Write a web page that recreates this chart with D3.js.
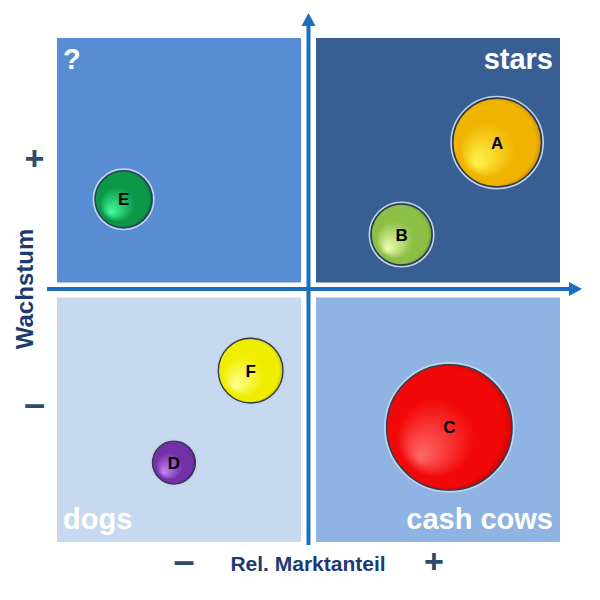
<!DOCTYPE html>
<html>
<head>
<meta charset="utf-8">
<script src="https://cdn.jsdelivr.net/npm/d3@7/dist/d3.min.js"></script>
<style>
  html, body { margin: 0; padding: 0; background: #ffffff; }
  svg { display: block; }
  text { font-family: "Liberation Sans", Arial, sans-serif; font-weight: bold; }
</style>
</head>
<body>
<svg id="chart" width="600" height="600"></svg>
<script>
// ---- data ----
const products = ["A", "B", "C", "D", "E", "F"];
const marketShare = [0.75, 0.37, 0.56, -0.535, -0.735, -0.23];   // relative market share (−1 … +1)
const growth = [0.585, 0.22, -0.545, -0.685, 0.36, -0.32];       // market growth (−1 … +1)
const sizes = [51, 25, 100, 13, 22, 28];                          // revenue (relative)
const baseColors = ["#f0b400", "#8cbf46", "#f20808", "#7530a8", "#0c9648", "#f0ee00"];
const lightColors = ["#fff650", "#f0ffb0", "#ff6a6a", "#c886f5", "#46ffa0", "#ffff96"];
const darkColors = ["#b47a00", "#557f26", "#b00000", "#3e1462", "#065a2c", "#aca800"];
const quadrantNames = ["?", "stars", "dogs", "cash cows"];
const xAxisTitle = "Rel. Marktanteil";
const yAxisTitle = "Wachstum";
const plusLabel = "+";
const minusLabel = "–";

// ---- scales ----
const svg = d3.select("#chart");
const x = d3.scaleLinear().domain([-1, 1]).range([57, 560]);
const y = d3.scaleLinear().domain([-1, 1]).range([542, 38]);
const r = d3.scaleSqrt().domain([0, 100]).range([0, 64.5]);
const gap = 7.5;

// ---- quadrants ----
const quads = [
  { x0: -1, x1: 0, y0: 0, y1: 1, fill: "#588dd4", name: quadrantNames[0], anchor: "start" },
  { x0: 0, x1: 1, y0: 0, y1: 1, fill: "#375f93", name: quadrantNames[1], anchor: "end" },
  { x0: -1, x1: 0, y0: -1, y1: 0, fill: "#c6d9f0", name: quadrantNames[2], anchor: "start" },
  { x0: 0, x1: 1, y0: -1, y1: 0, fill: "#8fb3e2", name: quadrantNames[3], anchor: "end" }
];
quads.forEach(q => {
  const left = q.x0 === 0 ? x(0) + gap : x(q.x0);
  const right = q.x1 === 0 ? x(0) - gap : x(q.x1);
  const top = q.y1 === 0 ? y(0) + gap : y(q.y1);
  const bottom = q.y0 === 0 ? y(0) - gap : y(q.y0);
  svg.append("rect").attr("x", left).attr("y", top)
    .attr("width", right - left).attr("height", bottom - top).attr("fill", q.fill);
  const tx = q.anchor === "start" ? left + 6 : right - 7;
  const ty = q.y1 === 1 ? top + 31 : bottom - 13;
  svg.append("text").attr("x", tx).attr("y", ty).attr("text-anchor", q.anchor)
    .attr("font-size", 29).attr("fill", "#ffffff").text(q.name);
});

// ---- axes ----
const axisColor = "#1a6fc0";
const defs = svg.append("defs");
svg.append("line").attr("x1", x(0)).attr("x2", x(0)).attr("y1", 545).attr("y2", 22)
  .attr("stroke", axisColor).attr("stroke-width", 4);
svg.append("path").attr("d", `M${x(0)},13 L${x(0) - 7},26 L${x(0) + 7},26 Z`).attr("fill", axisColor);
svg.append("line").attr("x1", 47).attr("x2", 572).attr("y1", y(0) - 1).attr("y2", y(0) - 1)
  .attr("stroke", axisColor).attr("stroke-width", 4);
svg.append("path").attr("d", `M582,${y(0) - 1} L569,${y(0) - 8} L569,${y(0) + 6} Z`).attr("fill", axisColor);

// ---- axis labels ----
const labelColor = "#1c3a70";
const signColor = "#2f4a6a";
svg.append("text").attr("x", 308).attr("y", 571).attr("text-anchor", "middle")
  .attr("font-size", 21).attr("fill", labelColor).text(xAxisTitle);
svg.append("text").attr("transform", "translate(33,289) rotate(-90)").attr("text-anchor", "middle")
  .attr("font-size", 24).attr("fill", labelColor).text(yAxisTitle);
svg.append("text").attr("x", 184).attr("y", 574).attr("text-anchor", "middle")
  .attr("font-size", 38).attr("fill", signColor).text(minusLabel);
svg.append("text").attr("x", 434).attr("y", 573).attr("text-anchor", "middle")
  .attr("font-size", 34).attr("fill", signColor).text(plusLabel);
svg.append("text").attr("x", 34.5).attr("y", 170).attr("text-anchor", "middle")
  .attr("font-size", 34).attr("fill", signColor).text(plusLabel);
svg.append("text").attr("x", 34.5).attr("y", 417).attr("text-anchor", "middle")
  .attr("font-size", 38).attr("fill", signColor).text(minusLabel);

// ---- bubbles ----
products.forEach((p, i) => {
  const g = defs.append("radialGradient").attr("id", "grad" + i)
    .attr("cx", "50%").attr("cy", "46%").attr("r", "56%")
    .attr("fx", "26%").attr("fy", "74%");
  g.append("stop").attr("offset", "0%").attr("stop-color", lightColors[i]);
  g.append("stop").attr("offset", "55%").attr("stop-color", baseColors[i]);
  g.append("stop").attr("offset", "84%").attr("stop-color", baseColors[i]);
  g.append("stop").attr("offset", "100%").attr("stop-color", darkColors[i]);
});

const data = products.map((p, i) => ({ name: p, mx: marketShare[i], gy: growth[i], s: sizes[i], i }));
const bubbles = svg.append("g").selectAll("g").data(data).join("g")
  .attr("transform", d => `translate(${x(d.mx)},${y(d.gy)})`);
bubbles.append("circle").attr("r", d => r(d.s))
  .attr("fill", "none").attr("stroke", "#c9d2e0").attr("stroke-width", 1.6);
bubbles.append("circle").attr("r", d => r(d.s) - 1.8)
  .attr("fill", d => `url(#grad${d.i})`).attr("stroke", "#2b3c55").attr("stroke-width", 1.4);
bubbles.append("text").attr("text-anchor", "middle").attr("dy", "0.36em")
  .attr("font-size", 17).attr("fill", "#000000").text(d => d.name);
</script>
</body>
</html>
